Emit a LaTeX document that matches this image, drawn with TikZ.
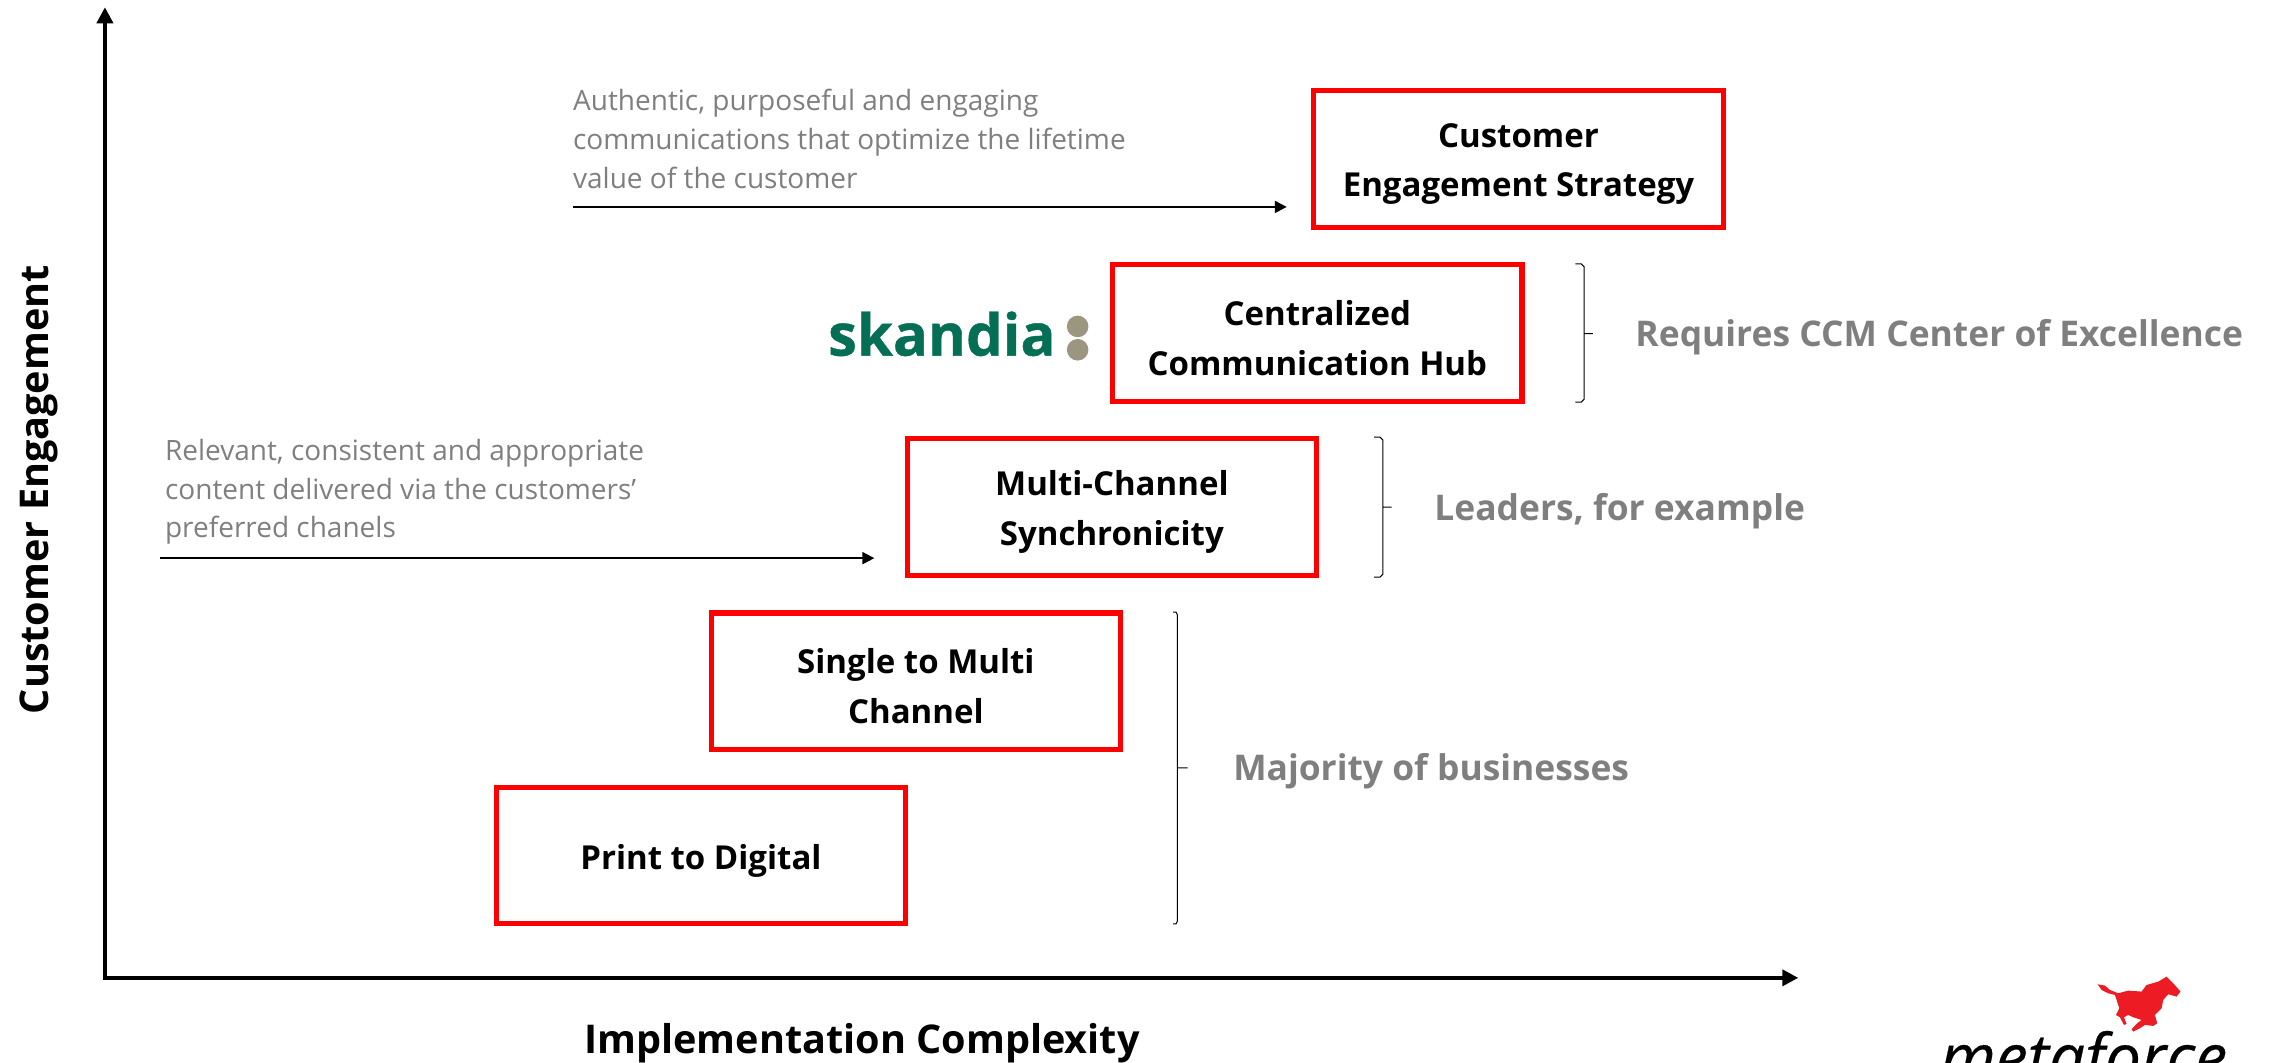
\documentclass[tikz,border=0pt]{standalone}
\usepackage{fontspec}
\setmainfont{Open Sans}
\usetikzlibrary{arrows.meta,positioning}
\definecolor{greytxt}{HTML}{7F7F7F}
\definecolor{skgreen}{HTML}{046F55}
\definecolor{skgrey}{HTML}{9C9580}
\definecolor{horsered}{HTML}{ED1C24}
\tikzset{
  x=0.7286pt,y=-0.7286pt,
  redbox/.style={draw=red,line width=2.6pt,minimum width=204.6pt,minimum height=68.3pt,inner sep=0pt,fill=white},
  boxtext/.style={inner sep=0pt,align=center,font=\fontsize{16.5}{24.8}\selectfont\bfseries,text=black,yshift=-2.5pt},
  axis/.style={line width=1.9pt,-{Triangle[length=8pt,width=8pt]}},
  leader/.style={line width=1pt,-{Triangle[length=6pt,width=6pt]}},
  brace/.style={line width=0.5pt,black},
  note/.style={anchor=north west,inner sep=0pt,align=left,text=greytxt,font=\fontsize{14}{19.4}\selectfont},
  side/.style={anchor=west,inner sep=0pt,text=greytxt,font=\fontsize{17.7}{20}\selectfont\bfseries},
  axlabel/.style={inner sep=0pt,font=\fontsize{19.8}{24}\selectfont\bfseries,text=black},
}
\begin{document}
\begin{tikzpicture}
\useasboundingbox (0,0) rectangle (1568,728.8);
\clip (0,0) rectangle (1568,728.8);
% axes
\coordinate (origin) at (72,671);
\coordinate (ytop) at (72,5);
\coordinate (xend) at (1234,671);
\draw[axis] (origin) -- (ytop);
\draw[axis] ([xshift=-1pt]origin) -- (xend);
\node[axlabel,rotate=90] (ylab) at (27,336) {Customer Engagement};
\node[axlabel] (xlab) at (591.5,716) {Implementation Complexity};
% boxes
\node[redbox,label={[boxtext]center:{Customer\\Engagement Strategy}}] (b1) at (1042,109) {};
\node[redbox,label={[boxtext]center:{Centralized\\Communication Hub}}] (b2) at (904,228.5) {};
\node[redbox,label={[boxtext]center:{Multi-Channel\\Synchronicity}}] (b3) at (763,348) {};
\node[redbox,label={[boxtext]center:{Single to Multi\\Channel}}] (b4) at (628.5,467.5) {};
\node[redbox,label={[boxtext]center:{Print to Digital}}] (b5) at (481,587) {};
% notes and leaders
\node[note] (n1) at (393,61) {Authentic, purposeful and engaging\\communications that optimize the lifetime\\value of the customer};
\coordinate (a1s) at (393,142);
\coordinate (a1e) at (883,142);
\draw[leader] (a1s) -- (a1e);
\node[note] (n2) at (113,301) {Relevant, consistent and appropriate\\content delivered via the customers’\\preferred chanels};
\coordinate (a2s) at (110,383);
\coordinate (a2e) at (600,383);
\draw[leader] (a2s) -- (a2e);
% braces
\draw[brace] (1081,181) -- (1085,181) -- (1087,183) -- (1087,274) -- (1085,276) -- (1081,276) (1087,229) -- (1093,229);
\draw[brace] (943,300) -- (947,300) -- (949,302) -- (949,394) -- (947,396) -- (943,396) (949,348) -- (955,348);
\draw[brace] (805,420) -- (807,420) -- (808,422) -- (808,632) -- (807,634) -- (805,634) (808,527) -- (815,527);
\node[side] (s1) at (1122,231.5) {Requires CCM Center of Excellence};
\node[side] (s2) at (984,350.5) {Leaders, for example};
\node[side] (s3) at (846,529.5) {Majority of businesses};
% skandia logo
\node[anchor=base west,inner sep=0pt,text=skgreen,font=\fontsize{29}{32}\selectfont\bfseries\addfontfeature{FakeBold=0.7}] (sk) at (568,244) {skandia};
\fill[skgrey] (739.5,224) circle (7.4);
\fill[skgrey] (739.5,240) circle (7.4);
% metaforce logo
\node[anchor=base west,inner sep=0pt,text=black,font=\fontsize{32}{36}\selectfont\itshape\addfontfeature{FakeBold=0.3}] (mf) at (1331,741) {metaforce};
\begin{scope}[shift={(1235.2,645)},x=0.1666pt,y=-0.1666pt]
\fill[horsered] (893,133) -- (915,137) -- (930,150) -- (955,160) -- (985,152) -- (1025,155) -- (1040,135) -- (1075,125) -- (1100,110) -- (1120,130) -- (1142,155) -- (1130,170) -- (1105,163) -- (1090,180) -- (1085,205) -- (1065,225) -- (1072,250) -- (1060,258) -- (1035,255) -- (1020,265) -- (1000,275) -- (995,268) -- (1012,250) -- (1025,240) -- (1000,232) -- (985,225) -- (972,232) -- (980,252) -- (972,255) -- (960,232) -- (948,225) -- (958,205) -- (950,180) -- (945,165) -- (925,160) -- (905,150) -- cycle;
\end{scope}
\end{tikzpicture}
\end{document}
